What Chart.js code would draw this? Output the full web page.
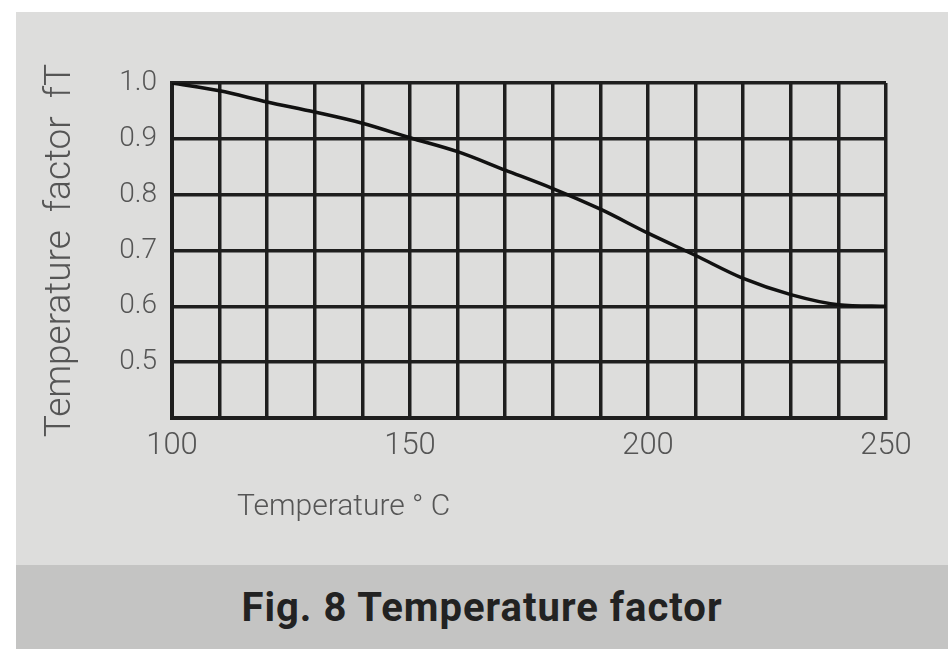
<!DOCTYPE html>
<html>
<head>
<meta charset="utf-8">
<script src="https://cdn.jsdelivr.net/npm/chart.js@4/dist/chart.umd.min.js"></script>
<style>
 html,body{margin:0;padding:0;background:#fff;width:948px;height:649px;overflow:hidden}
 #panel{position:absolute;left:16px;top:12px;width:932px;height:553px;background:#dddddc}
 #band{position:absolute;left:16px;top:565px;width:932px;height:84px;background:#c4c4c3;
   display:flex;align-items:center;justify-content:center;
   font:bold 40px Roboto,"DejaVu Sans",sans-serif;letter-spacing:1px;color:#222}
 #chart{position:absolute;left:0;top:0}
</style>
</head>
<body>
<div id="panel"></div>
<div id="band">Fig. 8 Temperature factor</div>
<canvas id="chart" width="948" height="565"></canvas>
<script>
const temps=[100,110,120,130,140,150,160,170,180,190,200,210,220,230,240,250];
const factors=[1.0,0.986,0.966,0.948,0.928,0.902,0.877,0.844,0.811,0.774,0.731,0.691,0.650,0.621,0.603,0.600];
const xLabels=[100,150,200,250];
const yLabels=[0.5,0.6,0.7,0.8,0.9,1.0];

const ink="#1e1e1e";
const textGrey="#555";

// x axis title sits left of centre in the original, so draw it by hand
const xTitle={
 id:"xTitle",
 afterDraw(chart){
   const ctx=chart.ctx;
   ctx.save();
   ctx.font="300 30px Roboto";
   ctx.fillStyle=textGrey;
   ctx.textBaseline="alphabetic";
   ctx.fillText("Temperature ° C",chart.chartArea.left+65,515);
   ctx.restore();
 }
};

new Chart(document.getElementById("chart"),{
 type:"line",
 data:{
   datasets:[{
     data:temps.map((t,i)=>({x:t,y:factors[i]})),
     borderColor:"#111",
     borderWidth:3.5,
     pointRadius:0,
     cubicInterpolationMode:"monotone",
     fill:false
   }]
 },
 options:{
   responsive:false,
   devicePixelRatio:1,
   animation:false,
   layout:{padding:{top:83,right:62,left:0,bottom:0}},
   plugins:{legend:{display:false},tooltip:{enabled:false}},
   scales:{
     x:{
       type:"linear",min:100,max:250,
       afterFit:s=>{s.height=147},
       grid:{color:ink,lineWidth:3.5,drawTicks:false},
       border:{color:ink,width:4},
       ticks:{
         stepSize:10,padding:10,autoSkip:false,maxRotation:0,
         color:textGrey,font:{family:"Roboto",size:31,weight:300},
         callback:v=>xLabels.includes(v)?String(v):""
       }
     },
     y:{
       min:0.4,max:1.0,
       afterFit:s=>{s.width=172},
       grid:{color:ink,lineWidth:3.5,drawTicks:false},
       border:{color:ink,width:4},
       ticks:{
         stepSize:0.1,padding:15,autoSkip:false,
         color:textGrey,font:{family:"Roboto",size:28,weight:300},
         callback:v=>{
           const r=Math.round(v*10)/10;
           return yLabels.includes(r)?r.toFixed(1):"";
         }
       },
       title:{
         display:true,
         text:"Temperature  factor  fT",
         color:textGrey,
         font:{family:"Roboto",size:37,weight:300},
         padding:{top:39,bottom:0}
       }
     }
   }
 },
 plugins:[xTitle]
});
</script>
</body>
</html>
